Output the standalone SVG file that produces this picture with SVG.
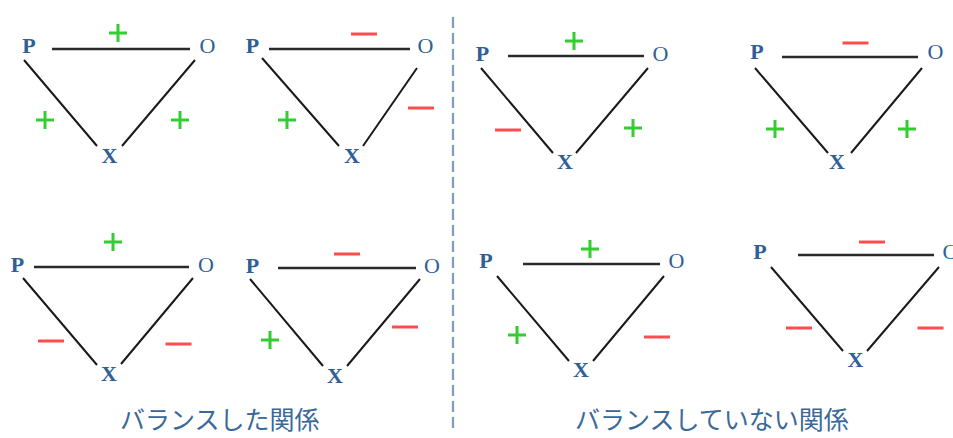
<svg xmlns="http://www.w3.org/2000/svg" width="953" height="438" viewBox="0 0 953 438">
<style>
.e{stroke:#1a1a1a;stroke-width:2;fill:none}
.t{stroke:#2a2a2a;stroke-width:2.6;fill:none}
.n{font-family:"Liberation Serif",serif;font-size:22px;fill:#2f5f96;text-anchor:middle}
.b{font-weight:bold}
.plus{stroke:#33cc33;stroke-width:3;fill:none}
.minus{stroke:#ff4d4d;stroke-width:3;fill:none}
.cap{font-family:"Noto Sans CJK JP",sans-serif;font-size:25px;fill:#3a6898}
</style>
<defs>
<path id="pl" d="M-9,0H9M0,-9V9" class="plus"/>
<path id="mi" d="M-13,0H13" class="minus"/>
</defs>
<rect width="953" height="438" fill="#ffffff"/>
<g id="connectors">
<path class="t" d="M52,49H190"/><path class="e" d="M24,60L97,146M195,60L122,146"/>
<path class="t" d="M269,49H410"/><path class="e" d="M262,58L339,146M417,68L363,146"/>
<path class="t" d="M508,56H644"/><path class="e" d="M481,68L553,153M648,68L576,153"/>
<path class="t" d="M782,57H918"/><path class="e" d="M755,68L828,153M922,68L851,153"/>
<path class="t" d="M34,267H189"/><path class="e" d="M23,278L97,365M193,278L121,364"/>
<path class="t" d="M278,268H416"/><path class="e" d="M250,279L323,366M420,279L347,366"/>
<path class="t" d="M523,264H660"/><path class="e" d="M497,276L569,361M664,276L593,361"/>
<path class="t" d="M798,255H934"/><path class="e" d="M771,267L843,351M939,267L867,351"/>
</g>
<g id="divider"><path d="M453,17V430" stroke="#7a9cc0" stroke-width="2.2" stroke-dasharray="11,5"/></g>
<g id="panel1">
<text class="n b" x="29" y="53">P</text><text class="n" x="207.5" y="53">O</text><text class="n b" x="109.5" y="163">X</text>
<use href="#pl" x="118" y="33"/><use href="#pl" x="45" y="120"/><use href="#pl" x="180" y="120"/>
</g>
<g id="panel2">
<text class="n b" x="252.5" y="53">P</text><text class="n" x="425.5" y="53">O</text><text class="n b" x="352" y="163">X</text>
<use href="#mi" x="364" y="34"/><use href="#pl" x="287" y="120"/><use href="#mi" x="421" y="108"/>
</g>
<g id="panel3">
<text class="n b" x="482.5" y="61">P</text><text class="n" x="660.5" y="61">O</text><text class="n b" x="565" y="169">X</text>
<use href="#pl" x="574" y="41"/><use href="#mi" x="508" y="130"/><use href="#pl" x="633" y="128"/>
</g>
<g id="panel4">
<text class="n b" x="757" y="59">P</text><text class="n" x="935.5" y="59">O</text><text class="n b" x="837" y="169">X</text>
<use href="#mi" x="855.5" y="43"/><use href="#pl" x="775" y="129"/><use href="#pl" x="907" y="129"/>
</g>
<g id="panel5">
<text class="n b" x="17.5" y="272">P</text><text class="n" x="206" y="272">O</text><text class="n b" x="109" y="381">X</text>
<use href="#pl" x="113" y="242"/><use href="#mi" x="51" y="341"/><use href="#mi" x="178.5" y="344"/>
</g>
<g id="panel6">
<text class="n b" x="252.5" y="273">P</text><text class="n" x="432" y="273">O</text><text class="n b" x="335" y="383">X</text>
<use href="#mi" x="347" y="254"/><use href="#pl" x="270" y="340"/><use href="#mi" x="405" y="327"/>
</g>
<g id="panel7">
<text class="n b" x="486" y="268">P</text><text class="n" x="676.5" y="268">O</text><text class="n b" x="581" y="377">X</text>
<use href="#pl" x="590" y="249"/><use href="#pl" x="517" y="335"/><use href="#mi" x="657" y="337"/>
</g>
<g id="panel8">
<text class="n b" x="760" y="259">P</text><text class="n" x="950.5" y="259">O</text><text class="n b" x="855.5" y="367">X</text>
<use href="#mi" x="872" y="242"/><use href="#mi" x="799" y="328"/><use href="#mi" x="930.5" y="328"/>
</g>
<g id="captions">
<text class="cap" x="120" y="429">バランスした関係</text>
<text class="cap" x="575" y="429">バランスしていない関係</text>
</g>
</svg>
